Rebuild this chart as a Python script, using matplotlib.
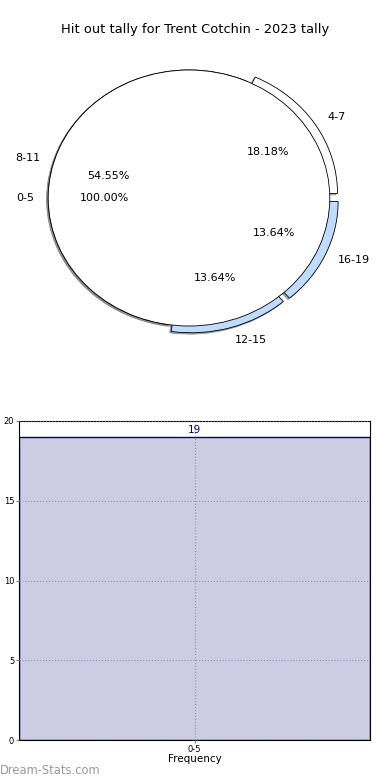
import numpy as np
import matplotlib
matplotlib.use("Agg")
from matplotlib import pyplot as plt

# 数据
title = "Hit out tally for Trent Cotchin - 2023 tally"
outer_labels = ["4-7", "8-11", "12-15", "16-19"]
outer_values = [4, 12, 3, 3]
outer_colors = ["#ffffff", "#ffffff", "#bfdcfe", "#bfdcfe"]
outer_explode = [0.065, 0.0, 0.055, 0.065]
inner_labels = ["0-5"]
inner_values = [19]
bar_labels = ["0-5"]
bar_values = [19]

plt.rcParams['font.family'] = ['DejaVu Sans']

fig = plt.figure(figsize=(3.9, 7.8), dpi=100)
fig.text(0.5, 1 - 30 / 780, title, ha="center", va="center", fontsize=9.4)

shadow_kw = dict(ox=-0.008, oy=-0.008, shade=0.5, alpha=0.6)

# 饼图
ax1 = fig.add_axes([13 / 390, 422 / 780, 352 / 390, 320 / 780])
ax1.pie(outer_values, labels=outer_labels, colors=outer_colors, explode=outer_explode,
        radius=1.0, autopct="%.2f%%", pctdistance=0.6, labeldistance=1.1,
        shadow=shadow_kw, startangle=0, counterclock=True,
        wedgeprops=dict(width=0.07, edgecolor="black", linewidth=0.6),
        textprops=dict(fontsize=8))
ax1.pie(inner_values, labels=inner_labels, colors=["#ffffff"], radius=1.0,
        autopct="%.2f%%", pctdistance=0.6, labeldistance=1.1, shadow=shadow_kw,
        startangle=0, wedgeprops=dict(edgecolor="black", linewidth=0.6),
        textprops=dict(fontsize=8))
ax1.set_aspect("auto")
ax1.set_xlim(-1.25, 1.25)
ax1.set_ylim(-1.25, 1.25)

# 柱状图
ax2 = fig.add_axes([19 / 390, 40 / 780, 351 / 390, 319 / 780])
x = np.arange(len(bar_values))
ax2.bar(x, bar_values, width=1.0, color="navy", alpha=0.2, zorder=1)
ax2.bar(x, bar_values, width=1.0, fill=False, edgecolor="navy", linewidth=1.0, zorder=2)
for xi, v in zip(x, bar_values):
    ax2.text(xi, v + 0.15, str(v), ha="center", va="bottom", fontsize=7.5, color="navy")
ax2.set_xlim(-0.5, 0.5)
ax2.set_ylim(0, 20)
ax2.set_yticks([0, 5, 10, 15, 20])
ax2.set_xticks(x)
ax2.set_xticklabels(bar_labels)
ax2.tick_params(labelsize=6, length=2, pad=1.5, color="gray")
ax2.grid(True, linestyle=":", color="gray", alpha=0.7, zorder=3)
ax2.set_axisbelow(False)
ax2.set_xlabel("Frequency", fontsize=7.5, labelpad=0)
ax2.set_ylabel("Stat Distribution", fontsize=7)
ax2.yaxis.set_label_coords(-0.06, 0.5)

fig.text(0.0, 1 - 771 / 780, "Dream-Stats.com", ha="left", va="center",
         fontsize=8.3, color="#999999")

fig.savefig("out.png", dpi=100)
